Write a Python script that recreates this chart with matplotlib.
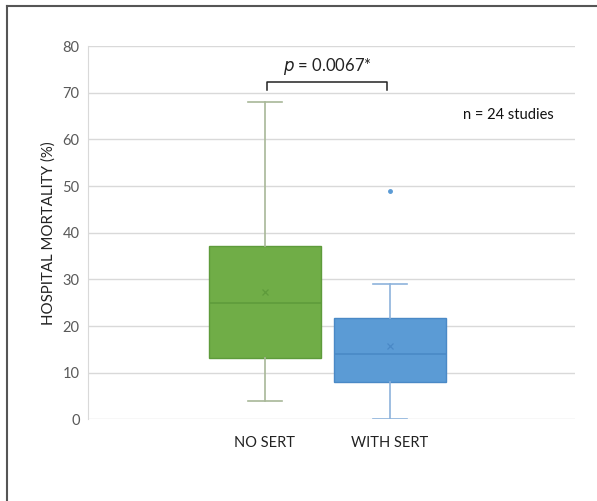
import matplotlib
matplotlib.use("Agg")
import matplotlib.pyplot as plt
from matplotlib.lines import Line2D

# box stats (hospital mortality, %)
groups = ["NO SERT", "WITH SERT"]
whis_low = [4.0, 0.0]
q1 = [13.2, 8.1]
medians = [25.0, 13.9]
q3 = [37.2, 21.7]
whis_high = [68.0, 29.0]
means = [27.3, 15.8]
outliers = [[], [49.0]]

box_colors = ["#70AD47", "#5B9BD5"]
edge_colors = ["#5E9B3B", "#4A89C6"]
whisker_colors = ["#A8B898", "#8DB3DC"]

plt.rcParams['font.family'] = ['Lato', 'DejaVu Sans']

fig = plt.figure(figsize=(5.97, 5.01), dpi=100)
ax = fig.add_axes([0.1474, 0.163, 0.8156, 0.745])

positions = [1, 2]
for i in range(len(groups)):
    stats = [dict(med=medians[i], q1=q1[i], q3=q3[i], whislo=whis_low[i],
                  whishi=whis_high[i], mean=means[i], fliers=outliers[i], label=groups[i])]
    ax.bxp(stats, positions=[positions[i]], widths=0.9, patch_artist=True,
           showmeans=True, showfliers=True,
           boxprops=dict(facecolor=box_colors[i], edgecolor=edge_colors[i], linewidth=1.0),
           medianprops=dict(color=edge_colors[i], linewidth=1.2),
           whiskerprops=dict(color=whisker_colors[i], linewidth=1.2),
           capprops=dict(color=whisker_colors[i], linewidth=1.2),
           capwidths=0.27,
           meanprops=dict(marker='x', markeredgecolor=edge_colors[i], markersize=4, markeredgewidth=0.9),
           flierprops=dict(marker='o', markerfacecolor=box_colors[i], markeredgecolor=box_colors[i], markersize=2.5),
           zorder=3)

ax.set_xlim(-0.416, 3.48)
ax.set_ylim(0, 80)
ax.set_yticks(range(0, 81, 10))
ax.set_xticks(positions)
ax.set_xticklabels(groups, fontsize=10.5, color="#222222")
ax.tick_params(axis='y', length=0, labelsize=10.5, labelcolor="#595959", pad=6)
ax.tick_params(axis='x', length=0, pad=12)
ax.grid(axis='y', color="#D9D9D9", linewidth=1.0, zorder=0)
ax.set_axisbelow(True)
for s in ['top', 'right', 'bottom']:
    ax.spines[s].set_visible(False)
ax.spines['left'].set_color("#D9D9D9")

ax.set_ylabel("HOSPITAL MORTALITY (%)", fontsize=10.8, color="#222222", labelpad=5)

# significance bracket
ax.plot([1.02, 1.02, 1.98, 1.98], [70.6, 72.3, 72.3, 70.6], color="#222222", linewidth=1.1, clip_on=False)
ax.text(1.5, 73.4, r"$\it{p}$ = 0.0067*", ha='center', va='bottom', fontsize=12, color="#222222")
ax.text(2.95, 65.3, "n = 24 studies", ha='center', va='center', fontsize=10.5, color="#111111")

# frame lines on the left and top of the picture
fig.add_artist(Line2D([0.0117, 0.0117], [0, 0.988], color="#555555", linewidth=1.5))
fig.add_artist(Line2D([0.0117, 1.0], [0.988, 0.988], color="#555555", linewidth=1.5))

fig.savefig("out.png", dpi=100)
